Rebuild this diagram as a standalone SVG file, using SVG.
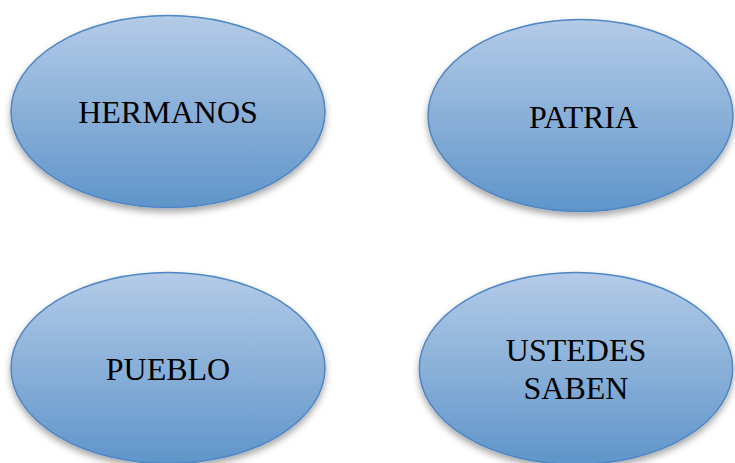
<svg xmlns="http://www.w3.org/2000/svg" width="735" height="463" viewBox="0 0 735 463">
<defs>
<linearGradient id="g" x1="0" y1="0" x2="0" y2="1">
<stop offset="0" stop-color="#b4cbe7"/>
<stop offset="1" stop-color="#5f95ca"/>
</linearGradient>
<filter id="sh" x="-10%" y="-10%" width="120%" height="130%">
<feDropShadow dx="0" dy="4" stdDeviation="3.5" flood-color="#000" flood-opacity="0.35"/>
</filter>
</defs>
<style>
.n{fill:url(#g);stroke:#4f86c4;stroke-width:1.5;filter:url(#sh)}
.t{font-family:"Liberation Serif","Times New Roman",serif;font-size:32px;fill:#000;text-anchor:middle}
</style>
<rect width="735" height="463" fill="#fff"/>
<g id="connectors"></g>
<g id="hermanos">
<ellipse class="n" cx="168" cy="111.5" rx="157" ry="96"/>
<text class="t" x="168" y="123">HERMANOS</text>
</g>
<g id="patria">
<ellipse class="n" cx="580.5" cy="115.5" rx="152.5" ry="96"/>
<text class="t" x="583.5" y="127.5">PATRIA</text>
</g>
<g id="pueblo">
<ellipse class="n" cx="168" cy="368" rx="157" ry="95.5"/>
<text class="t" x="168" y="380">PUEBLO</text>
</g>
<g id="ustedes">
<ellipse class="n" cx="576" cy="368.5" rx="156.7" ry="96"/>
<text class="t" x="576" y="361">USTEDES</text>
<text class="t" x="576" y="398.5">SABEN</text>
</g>
</svg>
